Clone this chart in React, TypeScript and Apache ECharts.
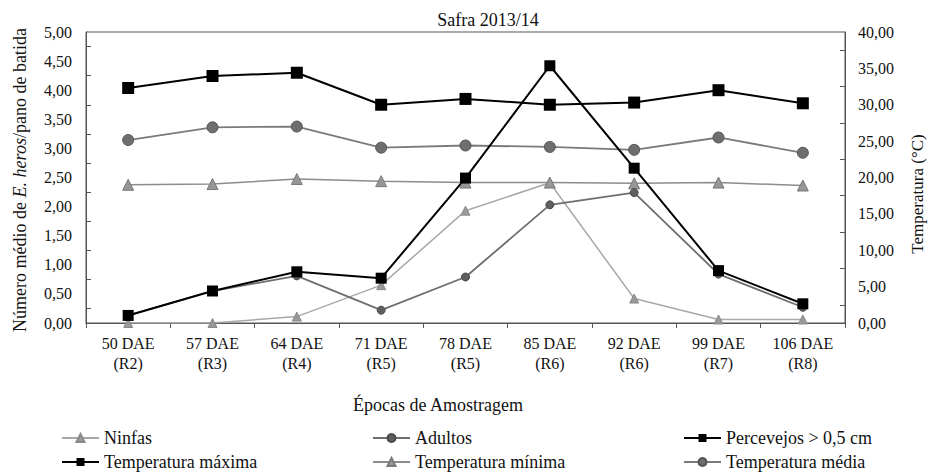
import React, { useEffect, useRef } from "react";
import * as echarts from "echarts";

const categories = [
  "50 DAE\n(R2)", "57 DAE\n(R3)", "64 DAE\n(R4)", "71 DAE\n(R5)", "78 DAE\n(R5)",
  "85 DAE\n(R6)", "92 DAE\n(R6)", "99 DAE\n(R7)", "106 DAE\n(R8)",
];
const ninfas = [0.0, 0.0, 0.11, 0.65, 1.93, 2.41, 0.42, 0.06, 0.06];
const adultos = [0.13, 0.55, 0.81, 0.22, 0.79, 2.03, 2.24, 0.84, 0.27];
const percevejos = [0.13, 0.55, 0.88, 0.77, 2.49, 4.42, 2.66, 0.9, 0.33];
const tempMax = [32.3, 33.95, 34.4, 30.0, 30.8, 30.0, 30.3, 32.0, 30.2];
const tempMin = [19.0, 19.1, 19.8, 19.5, 19.3, 19.3, 19.2, 19.3, 18.9];
const tempMed = [25.15, 26.9, 27.0, 24.1, 24.4, 24.2, 23.8, 25.5, 23.4];

const FONT = "Liberation Serif";

export default function App() {
  const ref = useRef<HTMLDivElement>(null);
  useEffect(() => {
    if (!ref.current) return;
    const chart = echarts.init(ref.current, null, { renderer: "svg" });
    const fmt = (v: number) => v.toFixed(2).replace(".", ",");
    const legendPos = [
      { name: "Ninfas", left: 61, top: 429 },
      { name: "Adultos", left: 372, top: 429 },
      { name: "Percevejos > 0,5 cm", left: 683, top: 429 },
      { name: "Temperatura máxima", left: 61, top: 453 },
      { name: "Temperatura mínima", left: 372, top: 453 },
      { name: "Temperatura média", left: 683, top: 453 },
    ];
    chart.setOption({
      animation: false,
      backgroundColor: "#fff",
      textStyle: { fontFamily: FONT },
      grid: {
        left: 86, right: 84, top: 32, bottom: 151,
        show: true, borderColor: "#555", borderWidth: 1,
      },
      legend: legendPos.map((l) => ({
        data: [l.name],
        left: l.left,
        top: l.top,
        itemWidth: 37,
        itemHeight: 10,
        padding: 0,
        textStyle: { fontFamily: FONT, fontSize: 18, color: "#111" },
      })),
      xAxis: {
        type: "category",
        data: categories,
        boundaryGap: true,
        axisLine: { lineStyle: { color: "#555", width: 1 } },
        axisTick: { show: true, length: 5, interval: 0, lineStyle: { color: "#555" } },
        axisLabel: {
          interval: 0, margin: 10, fontFamily: FONT, fontSize: 16,
          lineHeight: 20, color: "#111",
        },
        splitLine: { show: false },
      },
      yAxis: [
        {
          type: "value", min: 0, max: 5, interval: 0.5, position: "left",
          axisLine: { show: true, lineStyle: { color: "#555" } },
          axisTick: { show: false, inside: true },
          minorTick: { show: true, splitNumber: 2, length: 5, lineStyle: { color: "#555" } },
          axisLabel: { formatter: fmt, fontFamily: FONT, fontSize: 16, color: "#111", margin: 14 },
          splitLine: { show: false },
        },
        {
          type: "value", min: 0, max: 40, interval: 5, position: "right",
          axisLine: { show: true, lineStyle: { color: "#555" } },
          axisTick: { show: false, inside: true },
          minorTick: { show: true, splitNumber: 2, length: 5, lineStyle: { color: "#555" } },
          axisLabel: { formatter: fmt, fontFamily: FONT, fontSize: 16, color: "#111", margin: 13 },
          splitLine: { show: false },
        },
      ],
      graphic: [
        {
          type: "text", x: 488, y: 20,
          style: { text: "Safra 2013/14", fontFamily: FONT, fontSize: 18, fill: "#111", align: "center", verticalAlign: "middle" },
        },
        {
          type: "text", x: 438, y: 405,
          style: { text: "Épocas de Amostragem", fontFamily: FONT, fontSize: 18, fill: "#111", align: "center", verticalAlign: "middle" },
        },
        {
          type: "text", x: 20, y: 180, rotation: Math.PI / 2,
          style: {
            text: "{n|Número médio de }{i|E. heros}{n|/pano de batida}",
            align: "center", verticalAlign: "middle",
            rich: {
              n: { fontFamily: FONT, fontSize: 18, fill: "#111" },
              i: { fontFamily: FONT, fontSize: 18, fontStyle: "italic", fill: "#111" },
            },
          },
        },
        {
          type: "text", x: 917, y: 194, rotation: Math.PI / 2,
          style: { text: "Temperatura (°C)", fontFamily: FONT, fontSize: 17, fill: "#111", align: "center", verticalAlign: "middle" },
        },
      ],
      series: [
        {
          name: "Temperatura mínima", type: "line", yAxisIndex: 1, data: tempMin,
          symbol: "triangle", symbolSize: 11,
          lineStyle: { color: "#8c8c8c", width: 1.5 },
          itemStyle: { color: "#969696", borderColor: "#7a7a7a", borderWidth: 1 },
        },
        {
          name: "Temperatura média", type: "line", yAxisIndex: 1, data: tempMed,
          symbol: "circle", symbolSize: 11,
          lineStyle: { color: "#7a7a7a", width: 1.8 },
          itemStyle: { color: "#6e6e6e", borderColor: "#555", borderWidth: 1 },
        },
        {
          name: "Ninfas", type: "line", yAxisIndex: 0, data: ninfas,
          symbol: "triangle", symbolSize: 9,
          lineStyle: { color: "#a8a8a8", width: 1.5 },
          itemStyle: { color: "#999999", borderColor: "#8a8a8a", borderWidth: 1 },
        },
        {
          name: "Adultos", type: "line", yAxisIndex: 0, data: adultos,
          symbol: "circle", symbolSize: 8,
          lineStyle: { color: "#6e6e6e", width: 1.8 },
          itemStyle: { color: "#5f5f5f", borderColor: "#4a4a4a", borderWidth: 1 },
        },
        {
          name: "Temperatura máxima", type: "line", yAxisIndex: 1, data: tempMax,
          symbol: "rect", symbolSize: 12,
          lineStyle: { color: "#000", width: 2 },
          itemStyle: { color: "#000" },
        },
        {
          name: "Percevejos > 0,5 cm", type: "line", yAxisIndex: 0, data: percevejos,
          symbol: "rect", symbolSize: 11,
          lineStyle: { color: "#000", width: 2 },
          itemStyle: { color: "#000" },
        },
      ],
    });
    return () => chart.dispose();
  }, []);
  return (
    <div
      ref={ref}
      style={{ position: "fixed", left: 0, top: 0, width: 929, height: 474, background: "#fff" }}
    />
  );
}
